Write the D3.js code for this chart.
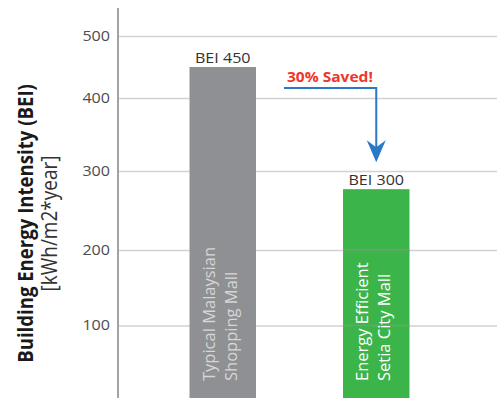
<html>
<head>
  <script src="https://d3js.org/d3.v7.min.js"></script>
  <style>
    body { margin: 0; background: #fff; }
    text { font-family: "Open Sans", sans-serif; }
    .grid line { stroke: #d2d2d2; stroke-width: 1.5; }
    .grid .domain { stroke: none; }
    .yaxis .domain { stroke: none; }
    .yaxis text { fill: #4d4d4d; font-size: 14px; font-family: "Open Sans", sans-serif; }
  </style>
</head>
<body>
<svg id="chart" width="497" height="398"></svg>

<script>
  // data
  const categories = ["Typical Malaysian|Shopping Mall", "Energy Efficient|Setia City Mall"];
  const values = [450, 277];
  const valueLabels = ["BEI 450", "BEI 300"];
  const barColors = ["#8f9093", "#3bb44a"];
  const barTextColors = ["#d6d6d6", "#ffffff"];
  const tickValues = [100, 200, 300, 400, 500];
  const savedLabel = "30% Saved!";
  const arrowFrom = 416;   // BEI level of the horizontal arrow leg
  const arrowTo = 312;     // BEI level of the arrow tip

  const svg = d3.select("svg#chart");
  const width = +svg.attr("width");
  const height = +svg.attr("height");
  const axisX = 118;
  const stretch = 1.15;   // text in the source image is a bit wider than it is tall

  // the original axis is not evenly spaced, so use a piecewise scale
  const y = d3.scaleLinear()
    .domain(tickValues)
    .range([325.5, 250, 171, 98, 36]);

  const x = d3.scaleBand()
    .domain(categories)
    .range([110, 489])
    .paddingInner(0.567)
    .paddingOuter(0.518);

  // gridlines
  svg.append("g")
    .attr("class", "grid")
    .attr("transform", "translate(" + axisX + ",0)")
    .call(d3.axisRight(y).tickValues(tickValues).tickSize(width - axisX).tickFormat(""));

  // bars
  svg.selectAll("rect.bar").data(values)
    .join("rect")
    .attr("class", "bar")
    .attr("x", (d, i) => x(categories[i]))
    .attr("width", x.bandwidth())
    .attr("y", d => y(d))
    .attr("height", d => y(0) - y(d))
    .attr("fill", (d, i) => barColors[i]);

  // faint gridlines showing through the green bar
  svg.append("g")
    .selectAll("line").data(tickValues.filter(t => t < values[1]))
    .join("line")
    .attr("x1", x(categories[1]))
    .attr("x2", x(categories[1]) + x.bandwidth())
    .attr("y1", d => y(d)).attr("y2", d => y(d))
    .attr("stroke", "#8a9a8a").attr("stroke-opacity", 0.6).attr("stroke-width", 1.5);

  // value labels on top of bars
  svg.selectAll("text.value").data(values)
    .join("text")
    .attr("class", "value")
    .attr("transform", (d, i) => "translate(" + (x(categories[i]) + x.bandwidth() / 2) + "," + (y(d) - 4) + ") scale(" + stretch + ",1)")
    .attr("text-anchor", "middle")
    .attr("font-size", 14)
    .attr("fill", "#333")
    .text((d, i) => valueLabels[i]);

  // category names inside bars, rotated
  categories.forEach((c, i) => {
    const lines = c.split("|");
    const cx = x(c) + x.bandwidth() / 2;
    const t = svg.append("text")
      .attr("transform", "translate(" + cx + "," + (y(0) - 20) + ") rotate(-90)")
      .attr("font-size", 16.5)
      .attr("fill", barTextColors[i]);
    lines.forEach((l, j) => {
      t.append("tspan")
        .attr("x", 0)
        .attr("y", j === 0 ? -8 : 14)
        .text(l);
    });
  });

  // y axis
  const yAxis = svg.append("g")
    .attr("class", "yaxis")
    .attr("transform", "translate(" + (axisX - 8) + ",0)")
    .call(d3.axisLeft(y).tickValues(tickValues).tickSize(0).tickPadding(0));
  yAxis.selectAll(".tick text")
    .attr("x", null)
    .attr("transform", "scale(" + stretch + ",1)");

  svg.append("line")
    .attr("x1", axisX).attr("x2", axisX)
    .attr("y1", y(545)).attr("y2", height)
    .attr("stroke", "#a3a3a3").attr("stroke-width", 2);

  // axis title
  const title = svg.append("g").attr("transform", "translate(33,223.5) rotate(-90) scale(1," + stretch + ")");
  title.append("text")
    .attr("text-anchor", "middle")
    .attr("font-size", 18.6)
    .attr("font-weight", "bold")
    .attr("fill", "#1a1a1a")
    .text("Building Energy Intensity (BEI)");
  title.append("text")
    .attr("text-anchor", "middle")
    .attr("y", 21)
    .attr("font-size", 19)
    .attr("fill", "#333")
    .text("[kWh/m2*year]");

  // savings arrow
  const ax0 = x(categories[0]) + x.bandwidth() + 28;
  const ax1 = x(categories[1]) + x.bandwidth() / 2;
  const yTip = y(arrowTo);
  svg.append("path")
    .attr("d", "M" + ax0 + "," + y(arrowFrom) + "H" + ax1 + "V" + (yTip - 14))
    .attr("fill", "none")
    .attr("stroke", "#2a78c8")
    .attr("stroke-width", 2);
  svg.append("path")
    .attr("d", "M" + ax1 + "," + yTip + "L" + (ax1 - 9.5) + "," + (yTip - 22) +
               "L" + ax1 + "," + (yTip - 15) + "L" + (ax1 + 9.5) + "," + (yTip - 22) + "Z")
    .attr("fill", "#2a78c8");

  svg.append("text")
    .attr("transform", "translate(" + (ax0 + 3) + "," + (y(arrowFrom) - 6) + ") scale(" + stretch + ",1)")
    .attr("font-size", 13.5)
    .attr("font-weight", "bold")
    .attr("fill", "#f0352a")
    .text(savedLabel);
</script>
</body>
</html>
